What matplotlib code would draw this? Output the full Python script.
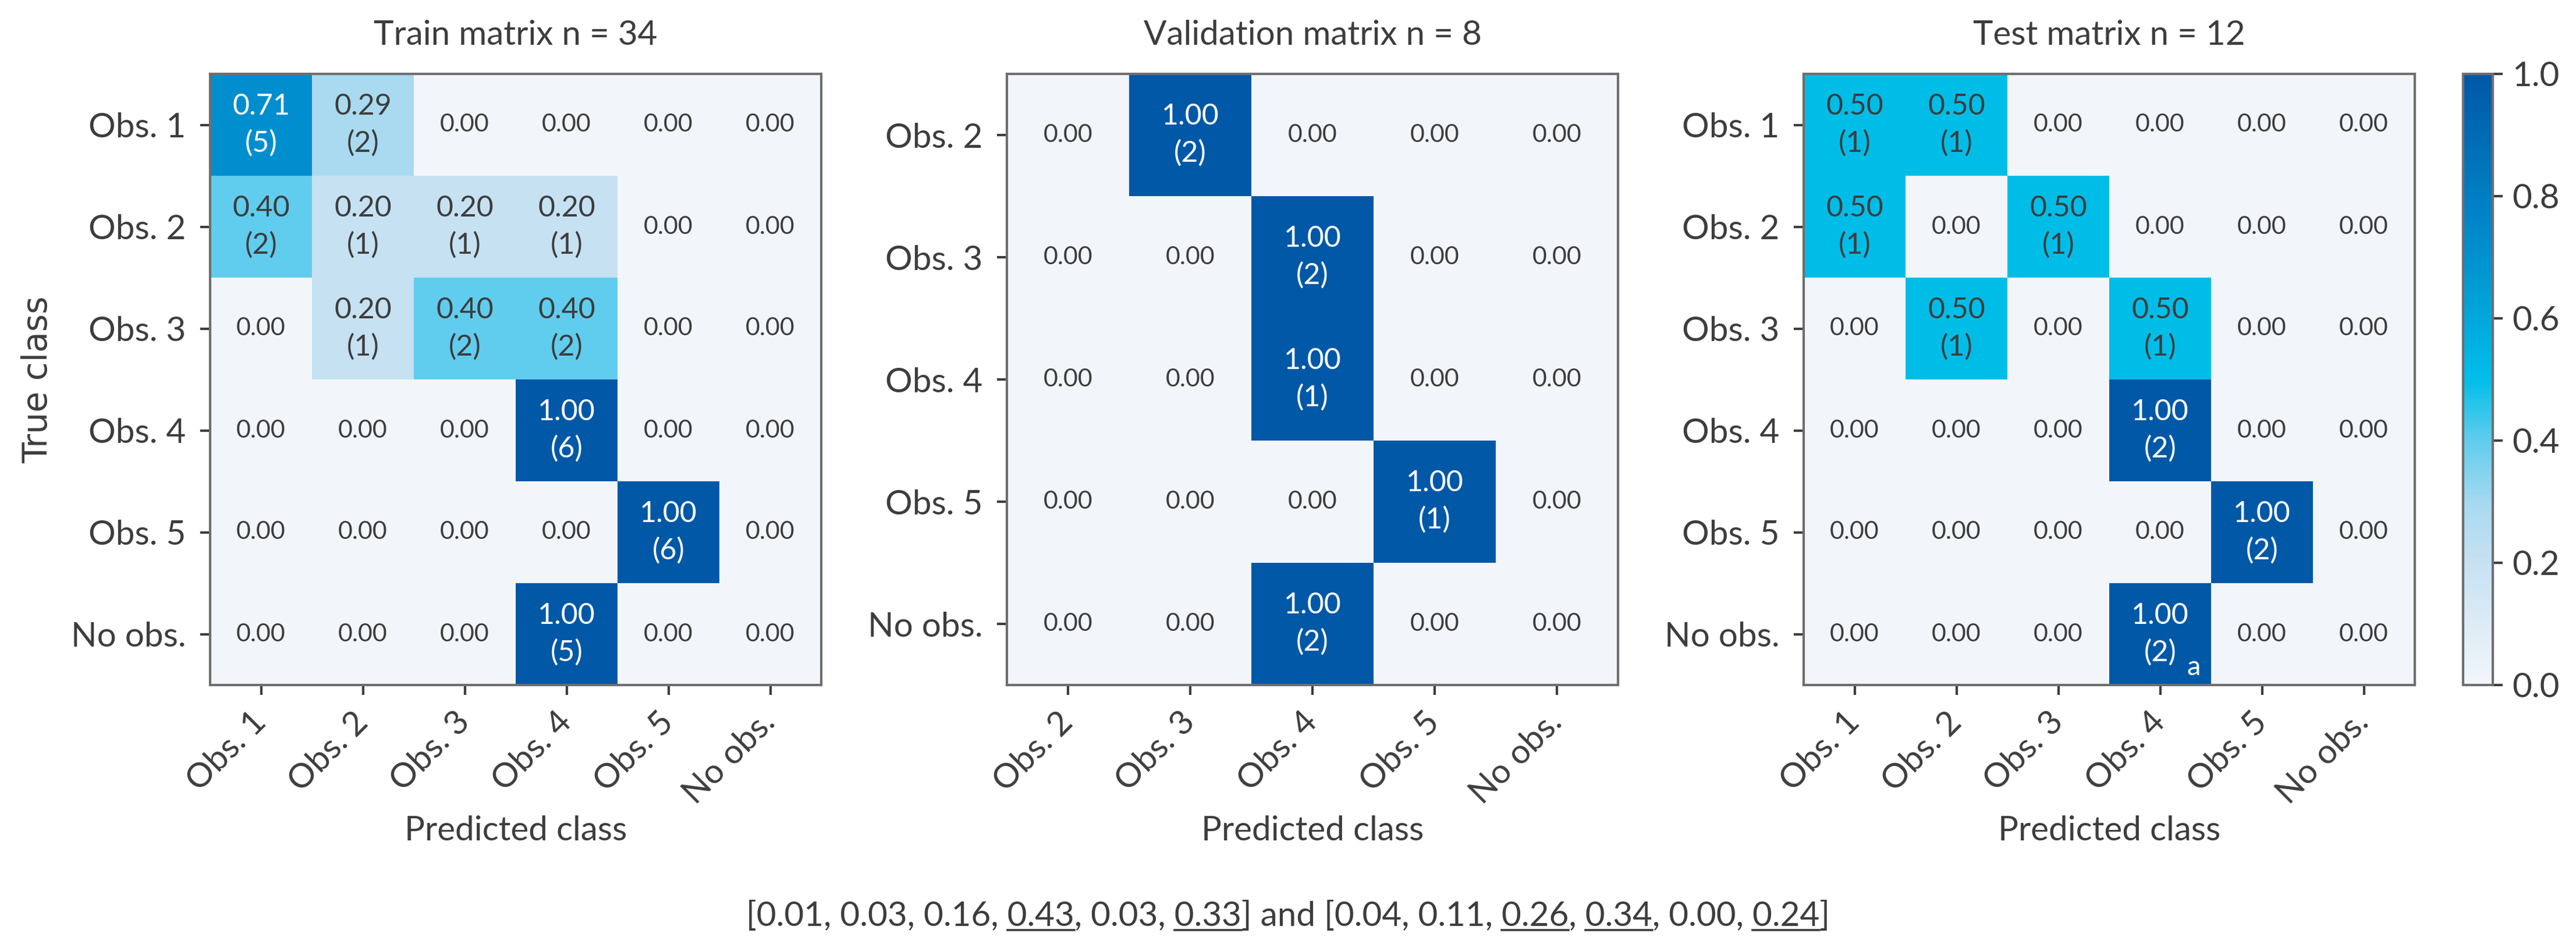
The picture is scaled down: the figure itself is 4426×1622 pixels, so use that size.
import numpy as np
import matplotlib
matplotlib.use("Agg")
import matplotlib.pyplot as plt
from matplotlib.colors import LinearSegmentedColormap
from matplotlib.lines import Line2D

plt.rcParams['font.family'] = ['Lato', 'DejaVu Sans']

# data
train_labels = ['Obs. 1', 'Obs. 2', 'Obs. 3', 'Obs. 4', 'Obs. 5', 'No obs.']
val_labels = ['Obs. 2', 'Obs. 3', 'Obs. 4', 'Obs. 5', 'No obs.']
test_labels = ['Obs. 1', 'Obs. 2', 'Obs. 3', 'Obs. 4', 'Obs. 5', 'No obs.']

train_counts = [[5, 2, 0, 0, 0, 0],
                [2, 1, 1, 1, 0, 0],
                [0, 1, 2, 2, 0, 0],
                [0, 0, 0, 6, 0, 0],
                [0, 0, 0, 0, 6, 0],
                [0, 0, 0, 5, 0, 0]]
val_counts = [[0, 2, 0, 0, 0],
              [0, 0, 2, 0, 0],
              [0, 0, 1, 0, 0],
              [0, 0, 0, 1, 0],
              [0, 0, 2, 0, 0]]
test_counts = [[1, 1, 0, 0, 0, 0],
               [1, 0, 1, 0, 0, 0],
               [0, 1, 0, 1, 0, 0],
               [0, 0, 0, 2, 0, 0],
               [0, 0, 0, 0, 2, 0],
               [0, 0, 0, 2, 0, 0]]
titles = ['Train matrix n = 34', 'Validation matrix n = 8', 'Test matrix n = 12']

list_a = [0.01, 0.03, 0.16, 0.43, 0.03, 0.33]
list_b = [0.04, 0.11, 0.26, 0.34, 0.00, 0.24]
underline_a = [3, 5]
underline_b = [2, 3, 5]

cmap = LinearSegmentedColormap.from_list('cm', [
    (0.0, '#f2f6fa'), (0.2, '#c6e1f2'), (0.29, '#a9daf0'), (0.4, '#60cdee'),
    (0.5, '#00bee9'), (0.71, '#008fcf'), (1.0, '#0058a7')])

W, H = 4426, 1622
fig = plt.figure(figsize=(W / 200, H / 200), dpi=200)

lefts = [361, 1730, 3099]
top, size = 127, 1050
txt_col = '#3d3d3d'
spine_col = '#6e6e6e'


def draw(ax, counts, labels, title):
    c = np.array(counts, dtype=float)
    vals = c / c.sum(axis=1, keepdims=True)
    im = ax.imshow(vals, cmap=cmap, vmin=0, vmax=1, aspect='auto')
    n = len(labels)
    for i in range(n):
        for j in range(n):
            v = vals[i, j]
            col = 'white' if v > 0.6 else txt_col
            if c[i, j] > 0:
                ax.text(j, i, f"{v:.2f}\n({int(c[i, j])})", ha='center', va='center',
                        color=col, fontsize=18, linespacing=1.45)
            else:
                ax.text(j, i, f"{v:.2f}", ha='center', va='center',
                        color=col, fontsize=15.5)
    ax.set_xticks(range(n))
    ax.set_yticks(range(n))
    ax.set_xticklabels(labels, rotation=45, ha='right', va='center',
                       rotation_mode='anchor')
    ax.set_yticklabels(labels)
    ax.tick_params(labelsize=21, colors=txt_col, length=6, width=1.5, pad=9)
    ax.tick_params(axis='x', pad=14)
    for s in ax.spines.values():
        s.set_color(spine_col)
        s.set_linewidth(1.5)
    ax.set_title(title, fontsize=21, color=txt_col, pad=18)
    ax.set_xlabel('Predicted class', fontsize=21, color=txt_col)
    ax.xaxis.set_label_coords(0.5, -0.239)
    ax.xaxis.label.set_va('center')
    return im


axes = []
for left, counts, labels, title in zip(lefts, [train_counts, val_counts, test_counts],
                                       [train_labels, val_labels, test_labels], titles):
    ax = fig.add_axes([left / W, 1 - (top + size) / H, size / W, size / H])
    im = draw(ax, counts, labels, title)
    axes.append(ax)

axes[0].set_ylabel('True class', fontsize=21, color=txt_col, family='DejaVu Sans')
axes[0].yaxis.set_label_coords((65 - 361) / 1050, 0.5)
axes[0].yaxis.label.set_va('center')

# footnote marker on test matrix
axes[2].text(3.33, 5.33, 'a', color='white', fontsize=17, ha='center', va='center')

cax = fig.add_axes([4232 / W, 1 - (top + size) / H, 51 / W, size / H])
cb = fig.colorbar(im, cax=cax, ticks=[0, 0.2, 0.4, 0.6, 0.8, 1.0])
cb.ax.set_yticklabels([f"{t:.1f}" for t in [0, 0.2, 0.4, 0.6, 0.8, 1.0]])
cb.ax.tick_params(labelsize=21, colors=txt_col, length=6, width=1.5, pad=6)
cb.outline.set_edgecolor(spine_col)
cb.outline.set_linewidth(1.5)

# bottom line of text with some values underlined
pieces = []  # (text, underlined)
for vals, under, pre in [(list_a, underline_a, "["), (list_b, underline_b, "] and [")]:
    for k, v in enumerate(vals):
        pieces.append((pre if k == 0 else ", ", False))
        pieces.append((f"{v:.2f}", k in under))
pieces.append(("]", False))
full = "".join(p for p, _ in pieces)

base_y = 1 - 1591 / H
foot = fig.text(0.5, base_y, full, ha='center', va='baseline', fontsize=21, color=txt_col)
renderer = fig.canvas.get_renderer()


def width(s):
    t = fig.text(0, 0, s, fontsize=21)
    w = t.get_window_extent(renderer).width
    t.remove()
    return w


x0 = foot.get_window_extent(renderer).x0
prefix = ""
for s, und in pieces:
    if und:
        end = width(prefix + s)
        start = end - width(s)
        fig.add_artist(Line2D([(x0 + start) / W, (x0 + end) / W],
                              [base_y - 7 / H, base_y - 7 / H],
                              transform=fig.transFigure, color=txt_col, lw=1.3))
    prefix += s

fig.savefig('out.png', dpi=200, facecolor='white')
